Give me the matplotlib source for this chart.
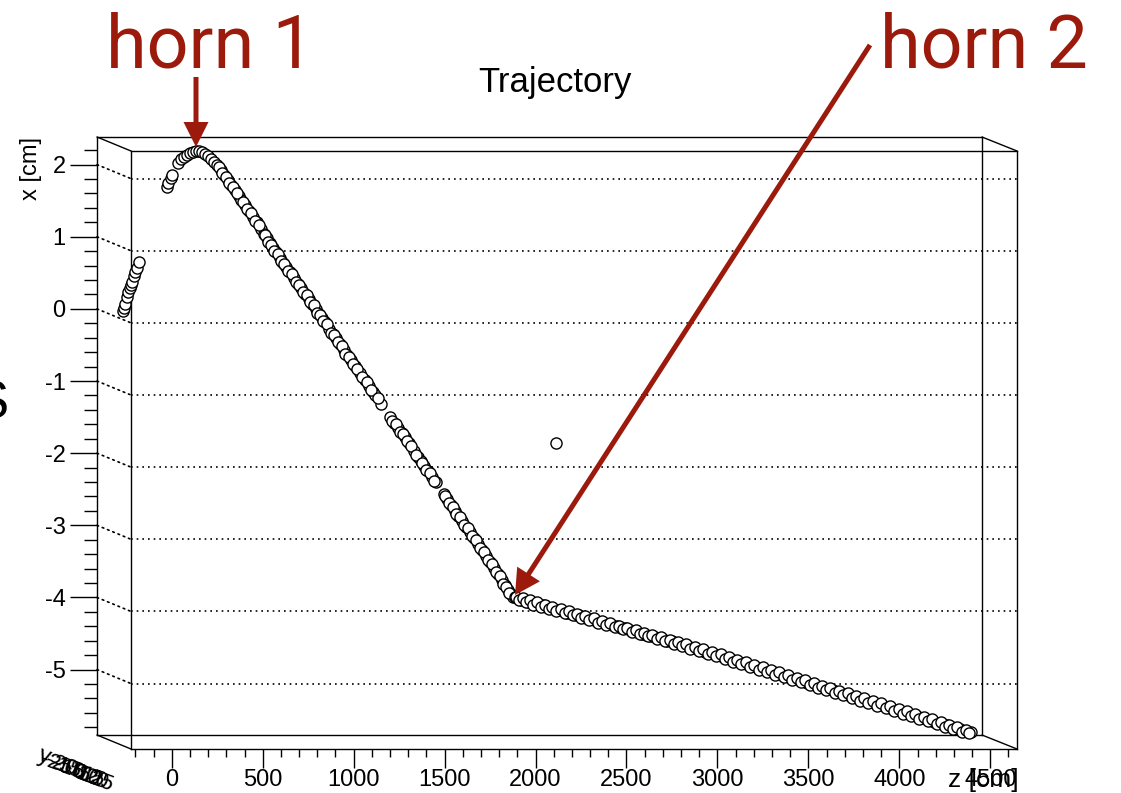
import matplotlib.pyplot as plt
from matplotlib.patches import FancyArrow, ConnectionPatch
from matplotlib.ticker import MultipleLocator

plt.rcParams['font.family'] = ['Liberation Sans', 'DejaVu Sans']
plt.rcParams['axes.unicode_minus'] = False

# beam trajectory, z along the beamline and x transverse (cm)
z_target = [-81, -75, -70, -59, -53, -42, -37, -31, -20, -15, -4, 7]
x_target = [-0.03, 0.01, 0.07, 0.16, 0.23, 0.29, 0.33, 0.37, 0.46, 0.51, 0.57, 0.65]

z_horn1 = [161, 167, 183, 189, 222, 238, 255, 271, 288, 304,
           320, 337, 354, 370, 387, 403, 420, 436, 458, 474,
           496, 513, 535, 557, 568, 590, 612, 634, 656, 678,
           694, 711, 727, 744, 760, 782, 799, 815, 837, 859,
           881, 898, 920, 942, 958, 980, 997, 1013, 1030, 1052,
           1074, 1090, 1112, 1134, 1151, 1173, 1195, 1222, 1250, 1272,
           1294, 1305, 1338, 1387, 1409, 1431, 1453, 1469, 1491, 1519,
           1541, 1558, 1574, 1596, 1618, 1640, 1684, 1700, 1722, 1744,
           1761, 1783, 1805, 1827, 1849, 1871, 1893, 1915, 1937, 1959,
           1981, 2003, 2019, 2036, 2052, 2063]
x_horn1 = [1.69, 1.75, 1.81, 1.86, 2.02, 2.08, 2.11, 2.13, 2.16, 2.18,
           2.19, 2.19, 2.18, 2.15, 2.12, 2.08, 2.04, 2.00, 1.93, 1.86,
           1.79, 1.72, 1.65, 1.57, 1.51, 1.44, 1.36, 1.27, 1.20, 1.11,
           1.04, 0.98, 0.91, 0.84, 0.79, 0.71, 0.64, 0.58, 0.51, 0.43,
           0.34, 0.29, 0.21, 0.14, 0.07, 0.00, -0.07, -0.13, -0.18, -0.28,
           -0.35, -0.41, -0.49, -0.57, -0.64, -0.71, -0.79, -0.89, -0.99, -1.07,
           -1.15, -1.19, -1.32, -1.50, -1.58, -1.65, -1.72, -1.78, -1.86, -1.97,
           -2.05, -2.11, -2.18, -2.25, -2.33, -2.40, -2.57, -2.64, -2.72, -2.80,
           -2.87, -2.94, -3.02, -3.09, -3.17, -3.26, -3.34, -3.43, -3.51, -3.59,
           -3.68, -3.76, -3.83, -3.90, -3.95, -3.99]

z_horn1_b = [447, 466, 485, 505, 524, 546, 580, 601, 623, 645,
             667, 702, 719, 736, 752, 771, 790, 807, 826, 848,
             870, 889, 909, 931, 950, 969, 988, 1005, 1021, 1041,
             1063, 1082, 1101, 1123, 1142, 1162, 1184, 1209, 1236, 1261,
             1283, 1320, 1398, 1420, 1442, 1461, 1480, 1505, 1530, 1566,
             1585, 1607, 1629, 1692, 1711, 1733, 1752, 1772, 1794, 1816,
             1838, 1860, 1882, 1904, 1926, 1948, 1970, 1992, 2011, 2028,
             2044]
x_horn1_b = [1.97, 1.88, 1.83, 1.74, 1.69, 1.60, 1.48, 1.38, 1.33, 1.22,
             1.16, 1.03, 0.93, 0.89, 0.80, 0.76, 0.66, 0.62, 0.53, 0.48,
             0.37, 0.33, 0.24, 0.19, 0.09, 0.05, -0.05, -0.08, -0.17, -0.21,
             -0.33, -0.36, -0.46, -0.52, -0.62, -0.66, -0.76, -0.83, -0.95, -1.02,
             -1.12, -1.24, -1.55, -1.60, -1.70, -1.74, -1.83, -1.90, -2.02, -2.13,
             -2.23, -2.28, -2.38, -2.59, -2.69, -2.75, -2.85, -2.89, -3.00, -3.04,
             -3.15, -3.20, -3.31, -3.37, -3.48, -3.54, -3.65, -3.70, -3.81, -3.85,
             -3.94]

z_horn2 = [2075, 2090, 2110, 2125, 2150, 2170, 2185, 2210, 2230, 2250,
           2275, 2290, 2320, 2340, 2365, 2380, 2410, 2430, 2455, 2470,
           2500, 2520, 2545, 2570, 2590, 2610, 2640, 2660, 2680, 2710,
           2730, 2750, 2775, 2800, 2820, 2845, 2870, 2890, 2915, 2940,
           2960, 2985, 3010, 3030, 3055, 3080, 3100, 3125, 3150, 3170,
           3195, 3220, 3240, 3265, 3290, 3310, 3335, 3360, 3380, 3405,
           3430, 3450, 3475, 3500, 3520, 3545, 3570, 3590, 3615, 3640,
           3660, 3685, 3710, 3730, 3755, 3780, 3800, 3825, 3850, 3870,
           3895, 3920, 3940, 3965, 3990, 4010, 4035, 4060, 4080, 4105,
           4130, 4150, 4175, 4200, 4220, 4245, 4270, 4290, 4315, 4340,
           4360, 4385, 4410, 4430, 4455, 4480, 4500, 4525, 4550, 4570,
           4586]
x_horn2 = [-4.00, -4.01, -4.03, -4.04, -4.06, -4.07, -4.08, -4.10, -4.11, -4.13,
           -4.14, -4.16, -4.18, -4.19, -4.21, -4.22, -4.24, -4.25, -4.27, -4.28,
           -4.30, -4.32, -4.34, -4.35, -4.37, -4.38, -4.40, -4.42, -4.43, -4.45,
           -4.47, -4.48, -4.50, -4.52, -4.53, -4.55, -4.56, -4.58, -4.60, -4.61,
           -4.63, -4.64, -4.66, -4.68, -4.70, -4.72, -4.73, -4.75, -4.77, -4.79,
           -4.80, -4.82, -4.84, -4.86, -4.88, -4.89, -4.91, -4.93, -4.95, -4.97,
           -4.99, -5.00, -5.02, -5.04, -5.05, -5.07, -5.09, -5.11, -5.13, -5.15,
           -5.16, -5.18, -5.20, -5.22, -5.24, -5.25, -5.27, -5.29, -5.31, -5.32,
           -5.34, -5.36, -5.38, -5.40, -5.42, -5.43, -5.45, -5.47, -5.49, -5.50,
           -5.52, -5.54, -5.56, -5.58, -5.59, -5.61, -5.63, -5.65, -5.67, -5.69,
           -5.70, -5.72, -5.74, -5.75, -5.77, -5.79, -5.81, -5.83, -5.85, -5.86,
           -5.87]

z_horn2_b = [2082, 2100, 2118, 2138, 2160, 2178, 2197, 2220, 2240, 2262,
             2283, 2305, 2330, 2352, 2372, 2395, 2420, 2442, 2462, 2485,
             2510, 2532, 2558, 2580, 2600, 2625, 2650, 2670, 2695, 2720,
             2740, 2762, 2788, 2810, 2832, 2858, 2880, 2902, 2928, 2950,
             2972, 2998, 3020, 3042, 3068, 3090, 3112, 3138, 3160, 3182,
             3208, 3230, 3252, 3278, 3300, 3322, 3348, 3370, 3392, 3418,
             3440, 3462, 3488, 3510, 3532, 3558, 3580, 3602, 3628, 3650,
             3672, 3698, 3720, 3742, 3768, 3790, 3812, 3838, 3860, 3882,
             3908, 3930, 3952, 3978, 4000, 4022, 4048, 4070, 4092, 4118,
             4140, 4162, 4188, 4210, 4232, 4258, 4280, 4302, 4328, 4350,
             4372, 4398, 4420, 4442, 4468, 4490, 4512, 4538, 4560, 4578]
x_horn2_b = [-3.99, -4.04, -4.01, -4.07, -4.04, -4.10, -4.07, -4.13, -4.10, -4.16,
             -4.13, -4.19, -4.16, -4.22, -4.19, -4.25, -4.23, -4.28, -4.26, -4.31,
             -4.29, -4.35, -4.32, -4.38, -4.35, -4.41, -4.39, -4.44, -4.42, -4.48,
             -4.45, -4.51, -4.49, -4.54, -4.52, -4.58, -4.55, -4.61, -4.59, -4.64,
             -4.62, -4.67, -4.65, -4.71, -4.69, -4.74, -4.72, -4.78, -4.76, -4.81,
             -4.79, -4.85, -4.83, -4.89, -4.87, -4.92, -4.90, -4.96, -4.94, -5.00,
             -4.97, -5.03, -5.01, -5.07, -5.04, -5.10, -5.08, -5.14, -5.12, -5.17,
             -5.15, -5.21, -5.19, -5.25, -5.23, -5.28, -5.26, -5.32, -5.30, -5.35,
             -5.33, -5.39, -5.37, -5.43, -5.40, -5.46, -5.44, -5.50, -5.47, -5.53,
             -5.51, -5.57, -5.55, -5.61, -5.58, -5.64, -5.62, -5.68, -5.66, -5.71,
             -5.69, -5.75, -5.73, -5.79, -5.77, -5.82, -5.80, -5.86, -5.84, -5.88]

z_stray = [2305]
x_stray = [-1.86]

z_ticks = [0, 500, 1000, 1500, 2000, 2500, 3000, 3500, 4000, 4500]
x_ticks = [-5, -4, -3, -2, -1, 0, 1, 2]
depth_labels = ['-25', '-20', '-15', '-10', '-5', '0', '5', '10', '15', '20', '25']

DARKRED = '#9b1a0c'
W, H = 1121, 793
fig = plt.figure(figsize=(W / 100, H / 100), dpi=100)


def box(l, t, r, b):
    return [l / W, 1 - b / H, (r - l) / W, (b - t) / H]


zlim = (-224, 4647)
xlim = (-5.907, 2.383)

# back plane carries the z axis and the grid, front plane the x axis
back = fig.add_axes(box(131, 151, 1017, 749))
front = fig.add_axes(box(97, 137, 982, 735))
for ax in (back, front):
    ax.set_xlim(zlim)
    ax.set_ylim(xlim)
    ax.patch.set_visible(False)
    for s in ax.spines.values():
        s.set_linewidth(1.0)

back.tick_params(axis='y', left=False, labelleft=False)
back.set_xticks(z_ticks)
back.xaxis.set_minor_locator(MultipleLocator(100))
back.tick_params(axis='x', which='major', direction='out', length=13.7, width=1,
                 labelsize=17, pad=1)
back.tick_params(axis='x', which='minor', direction='out', length=5.8, width=1)
for v in x_ticks:
    back.axhline(v, color='black', lw=1.2, linestyle=(0, (1, 2.4)), zorder=1)

front.tick_params(axis='x', bottom=False, labelbottom=False)
front.set_yticks(x_ticks)
front.yaxis.set_minor_locator(MultipleLocator(0.2))
front.tick_params(axis='y', which='major', direction='out', length=19.4, width=1,
                  labelsize=17, pad=3.2)
front.tick_params(axis='y', which='minor', direction='out', length=9.4, width=1)

# box edges between the two planes
for corner in [(0, 0), (0, 1), (1, 0), (1, 1)]:
    fig.add_artist(ConnectionPatch(xyA=corner, coordsA=front.transAxes,
                                   xyB=corner, coordsB=back.transAxes,
                                   color='black', lw=1.0))
for v in x_ticks:
    fig.add_artist(ConnectionPatch(xyA=(zlim[0], v), coordsA=front.transData,
                                   xyB=(zlim[0], v), coordsB=back.transData,
                                   color='black', lw=1.2, linestyle=(0, (1, 2.4))))

for zs, xs in [(z_target, x_target), (z_horn1, x_horn1), (z_horn1_b, x_horn1_b),
               (z_horn2, x_horn2), (z_horn2_b, x_horn2_b), (z_stray, x_stray)]:
    front.scatter(zs, xs, s=64, facecolors='white', edgecolors='black',
                  linewidths=1.0, zorder=3, clip_on=False)

fig.text(555 / W, 1 - 92 / H, 'Trajectory', ha='center', va='baseline', fontsize=25)
fig.text(31 / W, 1 - 137 / H, 'x [cm]', rotation=90, ha='center', va='top', fontsize=17)
fig.text(1019 / W, 1 - 787 / H, 'z [cm]', ha='right', va='baseline', fontsize=19)

# collapsed labels of the depth axis
for i, lab in enumerate(depth_labels):
    fig.text((56 + 4.5 * i) / W, 1 - (764 + 1.8 * i) / H, lab, rotation=-20,
             ha='center', va='center', fontsize=16)
fig.text(44 / W, 1 - 757 / H, 'y', rotation=-20, ha='center', va='center', fontsize=17)

fig.text(9 / W, 1 - 404 / H, 'S', ha='right', va='center', fontsize=38)

# annotations
fig.text(106 / W, 1 - 67 / H, 'horn 1', ha='left', va='baseline', fontsize=53,
         color=DARKRED, family=['Roboto', 'DejaVu Sans'])
fig.text(880 / W, 1 - 67 / H, 'horn 2', ha='left', va='baseline', fontsize=53,
         color=DARKRED, family=['Roboto', 'DejaVu Sans'])
fig.add_artist(FancyArrow(1.96, 7.16, 0, -0.70, width=0.05, head_width=0.25,
                          head_length=0.25, length_includes_head=True,
                          color=DARKRED, lw=0, transform=fig.dpi_scale_trans))
fig.add_artist(FancyArrow(8.70, 7.48, -3.55, -5.50, width=0.05, head_width=0.27,
                          head_length=0.25, length_includes_head=True,
                          color=DARKRED, lw=0, transform=fig.dpi_scale_trans))

fig.savefig('out.png', dpi=100)
